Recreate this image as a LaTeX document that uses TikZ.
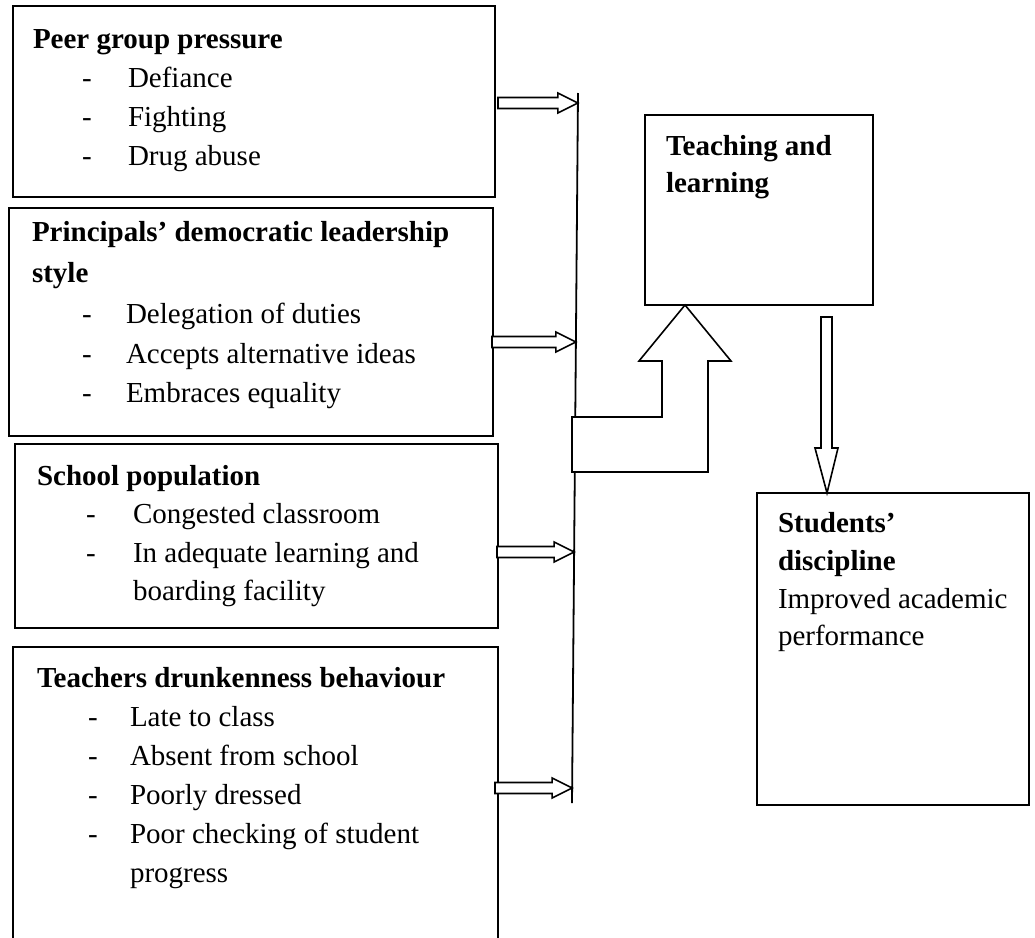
\documentclass[tikz,border=0pt]{standalone}
\usepackage{fontspec}
\setmainfont{Liberation Serif}
\usetikzlibrary{calc}
\tikzset{
  bx/.style={draw, line width=1.7pt, inner sep=0pt, outer sep=0pt, anchor=north west},
  ln/.style={anchor=base west, inner sep=0pt, outer sep=0pt, font=\fontsize{29}{39}\selectfont},
  hd/.style={anchor=base west, inner sep=0pt, outer sep=0pt, font=\fontsize{29}{39}\selectfont\bfseries},
  blk/.style={draw, fill=white, line width=1.6pt, line join=miter},
  vline/.style={line width=1.8pt}
}
\newcommand\hblockarrow[2]{%
  \draw[blk] ($(#1 |- #2)+(0,-5.5)$) -- ($(#2)+(-20,-5.5)$) -- ($(#2)+(-20,-10)$) -- (#2)
    -- ($(#2)+(-20,10)$) -- ($(#2)+(-20,5.5)$) -- ($(#1 |- #2)+(0,5.5)$) -- cycle;}
\begin{document}
\begin{tikzpicture}[x=1pt, y=-1pt]
\useasboundingbox (0,0) rectangle (1035,937);

% left boxes
\node[bx, minimum width=482, minimum height=191] (b1) at (13,6) {};
\node[bx, minimum width=484, minimum height=228] (b2) at (9,208) {};
\node[bx, minimum width=483, minimum height=184] (b3) at (15,444) {};
\node[bx, draw=none, minimum width=485, minimum height=300] (b4) at (13,647) {};
\draw[line width=1.7pt] (b4.south west) |- (b4.north east) -- (b4.south east);

% right boxes
\node[bx, minimum width=228, minimum height=190] (tb) at (645,115) {};
\node[bx, minimum width=272, minimum height=312] (sd) at (757,493) {};

% box 1 text
\node[hd] (t1) at (33,48) {Peer group pressure};
\node[ln] (d11) at (82,87) {-};  \node[ln] (i11) at (128,87) {Defiance};
\node[ln] (d12) at (82,126) {-}; \node[ln] (i12) at (128,126) {Fighting};
\node[ln] (d13) at (82,165) {-}; \node[ln] (i13) at (128,165) {Drug abuse};

% box 2 text
\node[hd] (t2) at (32,241) {Principals’ democratic leadership};
\node[hd] (t2b) at (32,282) {style};
\node[ln] (d21) at (82,323) {-}; \node[ln] (i21) at (126,323) {Delegation of duties};
\node[ln] (d22) at (82,363) {-}; \node[ln] (i22) at (126,363) {Accepts alternative ideas};
\node[ln] (d23) at (82,402) {-}; \node[ln] (i23) at (126,402) {Embraces equality};

% box 3 text
\node[hd] (t3) at (37,485) {School population};
\node[ln] (d31) at (86,523) {-}; \node[ln] (i31) at (133,523) {Congested classroom};
\node[ln] (d32) at (86,562) {-}; \node[ln] (i32) at (133,562) {In adequate learning and};
\node[ln] (i33) at (133,600) {boarding facility};

% box 4 text
\node[hd] (t4) at (37,687) {Teachers drunkenness behaviour};
\node[ln] (d41) at (88,726) {-}; \node[ln] (i41) at (130,726) {Late to class};
\node[ln] (d42) at (88,765) {-}; \node[ln] (i42) at (130,765) {Absent from school};
\node[ln] (d43) at (88,804) {-}; \node[ln] (i43) at (130,804) {Poorly dressed};
\node[ln] (d44) at (88,843) {-}; \node[ln] (i44) at (130,843) {Poor checking of student};
\node[ln] (i45) at (130,882) {progress};

% right texts
\node[hd] (tt1) at (666,155) {Teaching and};
\node[hd] (tt2) at (666,192) {learning};
\node[hd] (st1) at (778,532) {Students’};
\node[hd] (st2) at (778,570) {discipline};
\node[ln] (st3) at (778,608) {Improved academic};
\node[ln] (st4) at (778,645) {performance};

% vertical collector line
\coordinate (vtop) at (578,93);
\coordinate (vbot) at (572,803);
\draw[vline] (vtop) -- (vbot);

% block arrows from boxes to line
\coordinate (s1) at (498,103); \coordinate (e1) at (577.9,103);
\coordinate (s2) at (492,342); \coordinate (e2) at (575.9,342);
\coordinate (s3) at (497,552); \coordinate (e3) at (574.1,552);
\coordinate (s4) at (495,788); \coordinate (e4) at (572.1,788);
\hblockarrow{s1}{e1}
\hblockarrow{s2}{e2}
\hblockarrow{s3}{e3}
\hblockarrow{s4}{e4}

% big bent arrow up to teaching box
\coordinate (btip) at (685,305);
\draw[blk] (btip) -- (731,361) -- (708,361) -- (708,472) -- (572,472) -- (572,417)
  -- (662,417) -- (662,361) -- (639,361) -- cycle;

% down arrow to students box
\coordinate (dtip) at (827,493);
\draw[blk] (821,317) -- (832,317) -- (832,448) -- (838,448) -- (dtip) -- (815,448)
  -- (821,448) -- cycle;
\end{tikzpicture}
\end{document}
